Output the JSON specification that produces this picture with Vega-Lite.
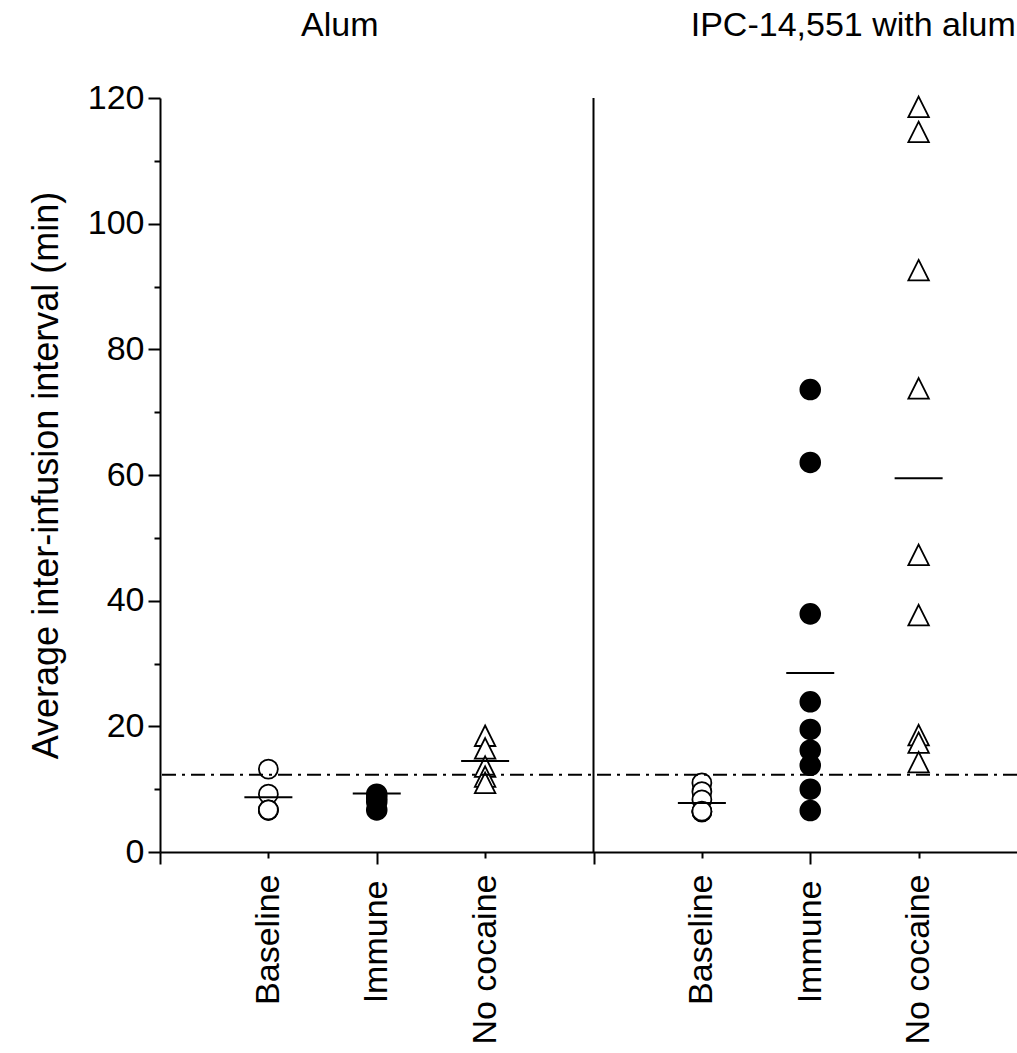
{
  "$schema": "https://vega.github.io/schema/vega-lite/v6.json",
  "autosize": {"type": "none"},
  "padding": {"left": 160, "top": 98, "right": 0, "bottom": 201},
  "width": 857,
  "height": 754,
  "background": "white",
  "config": {
    "view": {"stroke": null},
    "font": "Liberation Sans",
    "axis": {"grid": false, "domainColor": "black", "tickColor": "black", "labelColor": "black", "titleColor": "black", "domainWidth": 2, "tickWidth": 2}
  },
  "datasets": {
    "points": [
      {"cond": "Alum|Baseline", "kind": "Baseline", "v": 13.2},
      {"cond": "Alum|Baseline", "kind": "Baseline", "v": 9.2},
      {"cond": "Alum|Baseline", "kind": "Baseline", "v": 6.7},
      {"cond": "Alum|Baseline", "kind": "Baseline", "v": 6.6},
      {"cond": "Alum|Baseline", "kind": "Baseline", "v": 6.7},
      {"cond": "Alum|Immune", "kind": "Immune", "v": 9.2},
      {"cond": "Alum|Immune", "kind": "Immune", "v": 8.6},
      {"cond": "Alum|Immune", "kind": "Immune", "v": 8.0},
      {"cond": "Alum|Immune", "kind": "Immune", "v": 6.7},
      {"cond": "Alum|No cocaine", "kind": "No cocaine", "v": 18.5},
      {"cond": "Alum|No cocaine", "kind": "No cocaine", "v": 16.5},
      {"cond": "Alum|No cocaine", "kind": "No cocaine", "v": 13.6},
      {"cond": "Alum|No cocaine", "kind": "No cocaine", "v": 12.0},
      {"cond": "Alum|No cocaine", "kind": "No cocaine", "v": 11.0},
      {"cond": "IPC|Baseline", "kind": "Baseline", "v": 11.0},
      {"cond": "IPC|Baseline", "kind": "Baseline", "v": 9.6},
      {"cond": "IPC|Baseline", "kind": "Baseline", "v": 8.3},
      {"cond": "IPC|Baseline", "kind": "Baseline", "v": 6.4},
      {"cond": "IPC|Baseline", "kind": "Baseline", "v": 6.4},
      {"cond": "IPC|Baseline", "kind": "Baseline", "v": 6.5},
      {"cond": "IPC|Immune", "kind": "Immune", "v": 73.6},
      {"cond": "IPC|Immune", "kind": "Immune", "v": 62.0},
      {"cond": "IPC|Immune", "kind": "Immune", "v": 37.9},
      {"cond": "IPC|Immune", "kind": "Immune", "v": 23.9},
      {"cond": "IPC|Immune", "kind": "Immune", "v": 19.5},
      {"cond": "IPC|Immune", "kind": "Immune", "v": 16.2},
      {"cond": "IPC|Immune", "kind": "Immune", "v": 13.8},
      {"cond": "IPC|Immune", "kind": "Immune", "v": 10.0},
      {"cond": "IPC|Immune", "kind": "Immune", "v": 6.6},
      {"cond": "IPC|No cocaine", "kind": "No cocaine", "v": 118.6},
      {"cond": "IPC|No cocaine", "kind": "No cocaine", "v": 114.6},
      {"cond": "IPC|No cocaine", "kind": "No cocaine", "v": 92.6},
      {"cond": "IPC|No cocaine", "kind": "No cocaine", "v": 73.8},
      {"cond": "IPC|No cocaine", "kind": "No cocaine", "v": 47.3},
      {"cond": "IPC|No cocaine", "kind": "No cocaine", "v": 37.7},
      {"cond": "IPC|No cocaine", "kind": "No cocaine", "v": 18.6},
      {"cond": "IPC|No cocaine", "kind": "No cocaine", "v": 17.4},
      {"cond": "IPC|No cocaine", "kind": "No cocaine", "v": 14.3}
    ],
    "means": [
      {"cond": "Alum|Baseline", "mean": 8.7},
      {"cond": "Alum|Immune", "mean": 9.3},
      {"cond": "Alum|No cocaine", "mean": 14.5},
      {"cond": "IPC|Baseline", "mean": 7.8},
      {"cond": "IPC|Immune", "mean": 28.5},
      {"cond": "IPC|No cocaine", "mean": 59.5}
    ]
  },
  "encoding": {
    "x": {
      "field": "cond",
      "type": "ordinal",
      "scale": {
        "type": "point",
        "domain": ["gap0", "Alum|Baseline", "Alum|Immune", "Alum|No cocaine", "gap4", "IPC|Baseline", "IPC|Immune", "IPC|No cocaine", "gap8"],
        "range": [0, 867],
        "padding": 0
      },
      "axis": {
        "title": null,
        "labelExpr": "indexof(datum.label, '|') >= 0 ? split(datum.label, '|')[1] : ''",
        "labelAngle": 270,
        "labelAlign": "right",
        "labelBaseline": "middle",
        "labelFontSize": 34,
        "labelPadding": 16,
        "tickSize": {"condition": {"test": "indexof(datum.value, 'gap') == 0 || indexof(datum.value, 'Immune') >= 0", "value": 12}, "value": 6}
      }
    },
    "y": {
      "type": "quantitative",
      "scale": {"domain": [0, 120], "nice": false, "zero": true},
      "axis": {
        "title": "Average inter-infusion interval (min)",
        "titleFontSize": 36,
        "titleFontWeight": "normal",
        "titlePadding": 22,
        "values": [0, 10, 20, 30, 40, 50, 60, 70, 80, 90, 100, 110, 120],
        "labelExpr": "datum.value % 20 == 0 ? datum.label : ''",
        "labelFontSize": 34,
        "labelPadding": 4,
        "tickSize": {"condition": {"test": "datum.value % 20 == 0", "value": 12}, "value": 6}
      }
    }
  },
  "layer": [
    {
      "data": {"name": "points"},
      "mark": {"type": "point", "filled": true, "stroke": "black", "strokeWidth": 1.8, "opacity": 1},
      "encoding": {
        "y": {"field": "v"},
        "shape": {"field": "kind", "type": "nominal", "legend": null,
          "scale": {"domain": ["Baseline", "Immune", "No cocaine"], "range": ["circle", "circle", "M0,-1L1,1L-1,1Z"]}},
        "fill": {"field": "kind", "type": "nominal", "legend": null,
          "scale": {"domain": ["Baseline", "Immune", "No cocaine"], "range": ["white", "black", "white"]}},
        "size": {"field": "kind", "type": "nominal", "legend": null,
          "scale": {"domain": ["Baseline", "Immune", "No cocaine"], "range": [360, 420, 340]}}
      }
    },
    {
      "data": {"name": "means"},
      "mark": {"type": "tick", "color": "black", "size": 48, "thickness": 2, "opacity": 1},
      "encoding": {"y": {"field": "mean"}}
    },
    {
      "data": {"values": [{}]},
      "mark": {"type": "rule", "color": "black", "strokeWidth": 2, "strokeDash": [14, 6, 3, 6]},
      "encoding": {"x": null, "y": {"datum": 12.3}}
    },
    {
      "data": {"values": [{}]},
      "mark": {"type": "rule", "color": "black", "strokeWidth": 2},
      "encoding": {"x": {"datum": "gap4"}, "y": null}
    },
    {
      "data": {"values": [{"label": "Alum"}]},
      "mark": {"type": "text", "fontSize": 34, "color": "black", "baseline": "middle", "dx": -37},
      "encoding": {"x": {"datum": "Alum|Immune"}, "y": {"datum": 131.4}, "text": {"field": "label"}}
    },
    {
      "data": {"values": [{"label": "IPC-14,551 with alum"}]},
      "mark": {"type": "text", "fontSize": 34, "color": "black", "baseline": "middle", "dx": 43},
      "encoding": {"x": {"datum": "IPC|Immune"}, "y": {"datum": 131.4}, "text": {"field": "label"}}
    }
  ]
}
